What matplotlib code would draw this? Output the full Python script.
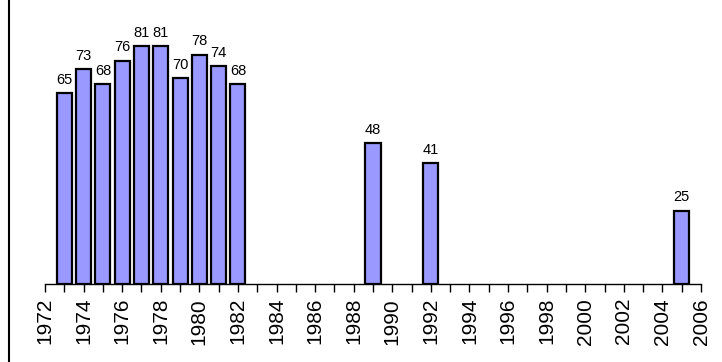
import matplotlib.pyplot as plt
from matplotlib.lines import Line2D

years = [1973, 1974, 1975, 1976, 1977, 1978, 1979, 1980, 1981, 1982, 1989, 1992, 2005]
values = [65, 73, 68, 76, 81, 81, 70, 78, 74, 68, 48, 41, 25]

plt.rcParams['font.family'] = ['Liberation Sans', 'DejaVu Sans']

fig = plt.figure(figsize=(7.22, 3.62), dpi=100)
ax = fig.add_axes([45 / 722, 78 / 362, 656 / 722, 264.6 / 362])

bars = ax.bar(years, values, width=0.78, color='#9999ff', edgecolor='black', linewidth=1.6)
for x, v in zip(years, values):
    ax.annotate(str(v), (x, v), xytext=(0, 4.5), textcoords='offset points',
                ha='center', va='bottom', fontsize=10.5)

ax.set_xlim(1972, 2006)
ax.set_ylim(0, 90)
ax.set_xticks(range(1972, 2007, 2))
ax.set_xticks(range(1972, 2007), minor=True)
ax.tick_params(axis='x', which='both', direction='out', length=6, width=1, color='black')
ax.tick_params(axis='x', labelrotation=90, labelsize=15, pad=4)
ax.set_yticks([])
for s in ['top', 'right', 'left']:
    ax.spines[s].set_visible(False)
ax.spines['bottom'].set_linewidth(1)

# left border of the chart area
fig.add_artist(Line2D([9 / 722, 9 / 722], [0, 1], color='black', linewidth=1.5,
                      transform=fig.transFigure))

fig.savefig('out.png', dpi=100)
